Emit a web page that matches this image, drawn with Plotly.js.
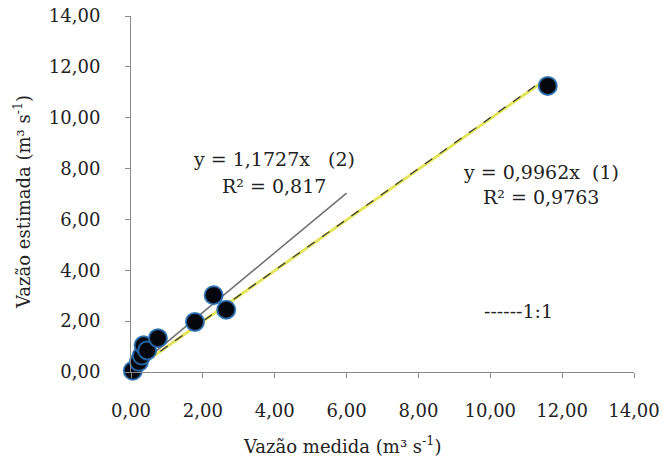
<!DOCTYPE html>
<html>
<head>
<meta charset="utf-8">
<script src="https://cdn.plot.ly/plotly-3.0.1.min.js"></script>
<style>html,body{margin:0;padding:0;background:#fff;}</style>
</head>
<body>
<div id="chart" style="width:661px;height:473px;"></div>
<script>
// Data
const measured  = [0.05, 0.22, 0.30, 0.35, 0.45, 0.75, 1.78, 2.30, 2.65, 11.60];
const estimated = [0.05, 0.40, 0.65, 1.05, 0.85, 1.33, 1.97, 3.02, 2.45, 11.25];

const slope1 = 0.9962;   // (1)
const slope2 = 1.1727;   // (2)
const line1X = [0, 11.6];
const line2X = [0, 6];
const oneToOneX = [0, 11.6];

const tickVals = [0, 2, 4, 6, 8, 10, 12, 14];
const tickText = ["0,00", "2,00", "4,00", "6,00", "8,00", "10,00", "12,00", "14,00"];

const eq1 = ["y = 0,9962x  (1)", "R² = 0,9763"];
const eq2 = ["y = 1,1727x   (2)", "R² = 0,817"];
const legend11 = "------1:1";
const xTitle = "Vazão medida (m³ s<sup>-1</sup>)";
const yTitle = "Vazão estimada (m³ s<sup>-1</sup>)";

const FONT = "DejaVu Serif, Liberation Serif, serif";

const traces = [
  {
    x: line2X, y: line2X.map(v => v * slope2),
    mode: "lines", type: "scatter",
    line: {color: "#6d6d6d", width: 1.5},
    hoverinfo: "skip", cliponaxis: false
  },
  {
    x: line1X, y: line1X.map(v => v * slope1),
    mode: "lines", type: "scatter",
    line: {color: "#e4e45a", width: 3},
    hoverinfo: "skip", cliponaxis: false
  },
  {
    x: oneToOneX, y: oneToOneX,
    mode: "lines", type: "scatter",
    line: {color: "#333333", width: 1.2, dash: "dash"},
    hoverinfo: "skip", cliponaxis: false
  },
  {
    x: measured, y: estimated,
    mode: "markers", type: "scatter",
    marker: {size: 18, color: "#05070d", line: {color: "rgba(40,110,175,0.9)", width: 2}},
    cliponaxis: false
  }
];

const axisCommon = {
  range: [0, 14],
  tickvals: tickVals,
  ticktext: tickText,
  showgrid: false,
  zeroline: false,
  showline: true,
  linecolor: "#8a8a8a",
  linewidth: 1,
  ticks: "outside",
  ticklen: 5,
  tickcolor: "#8a8a8a",
  tickfont: {family: FONT, size: 18, color: "#222"},
  fixedrange: true
};

const layout = {
  width: 661, height: 473,
  margin: {l: 131, r: 27, t: 16, b: 101},
  paper_bgcolor: "#fff",
  plot_bgcolor: "#fff",
  showlegend: false,
  xaxis: Object.assign({}, axisCommon, {ticklabelstandoff: 17}),
  yaxis: Object.assign({}, axisCommon, {ticklabelstandoff: 21}),
  annotations: [
    {text: eq2[0], x: 274, y: 159, size: 19},
    {text: eq2[1], x: 274, y: 186, size: 19},
    {text: eq1[0], x: 541, y: 172, size: 19},
    {text: eq1[1], x: 541, y: 197, size: 19},
    {text: legend11, x: 518, y: 311, size: 19},
    {text: xTitle, x: 342, y: 445, size: 18},
    {text: yTitle, x: 22, y: 202, size: 18, textangle: -90}
  ].map(a => ({
    text: a.text,
    xref: "paper", yref: "paper",
    x: (a.x - 131) / 503,
    y: (372 - a.y) / 356,
    xanchor: "center", yanchor: "middle",
    textangle: a.textangle || 0,
    showarrow: false,
    font: {family: FONT, size: a.size, color: "#222"}
  }))
};

Plotly.newPlot("chart", traces, layout, {displayModeBar: false, staticPlot: true});
</script>
</body>
</html>
